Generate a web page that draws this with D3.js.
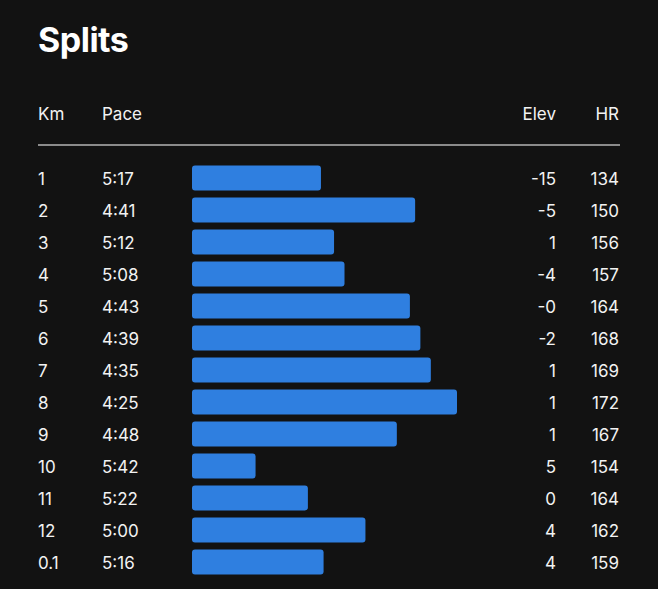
<!DOCTYPE html>
<html>
<head>
<meta charset="utf-8">
<script src="https://cdn.jsdelivr.net/npm/d3@7"></script>
<style>
  html, body { margin: 0; padding: 0; background: #121212; }
  svg { display: block; }
</style>
</head>
<body>
<svg id="chart" width="658" height="589"></svg>
<script>
const kmLabels = ["1","2","3","4","5","6","7","8","9","10","11","12","0.1"];
const paces = ["5:17","4:41","5:12","5:08","4:43","4:39","4:35","4:25","4:48","5:42","5:22","5:00","5:16"];
const elev = ["-15","-5","1","-4","-0","-2","1","1","1","5","0","4","4"];
const hr = [134,150,156,157,164,168,169,172,167,154,164,162,159];
const headers = ["Km","Pace","Elev","HR"];

const paceSec = paces.map(p => { const [m, s] = p.split(":").map(Number); return m * 60 + s; });
const rows = kmLabels.map((k, i) => ({ km: k, pace: paces[i], sec: paceSec[i], elev: elev[i], hr: hr[i] }));

const svg = d3.select("#chart");
const W = 658, H = 589;
svg.append("rect").attr("width", W).attr("height", H).attr("fill", "#121212");

const font = "Inter, 'Noto Sans', sans-serif";
const textColor = "#f2f2f2";

svg.append("text").attr("x", 38).attr("y", 52)
  .attr("font-family", font).attr("font-size", 34).attr("font-weight", 700)
  .attr("fill", "#ffffff").attr("letter-spacing", -0.5).text("Splits");

// column positions
const colX = { km: 38, pace: 102, elev: 556, hr: 619 };

const hdr = svg.append("g").attr("font-family", font).attr("font-size", 17).attr("fill", textColor);
hdr.append("text").attr("x", colX.km).attr("y", 120).text(headers[0]);
hdr.append("text").attr("x", colX.pace).attr("y", 120).text(headers[1]);
hdr.append("text").attr("x", colX.elev).attr("y", 120).attr("text-anchor", "end").text(headers[2]);
hdr.append("text").attr("x", colX.hr).attr("y", 120).attr("text-anchor", "end").text(headers[3]);

svg.append("line").attr("x1", 38).attr("x2", 620).attr("y1", 145).attr("y2", 145)
  .attr("stroke", "#b5b5b5").attr("stroke-width", 1.5);

const y = d3.scaleBand().domain(rows.map((d, i) => i)).range([162, 578]).paddingInner(0.22).paddingOuter(0.11);
const x = d3.scaleLinear().domain([366.3, 265]).range([192, 457]);

const g = svg.append("g");
g.selectAll("rect.bar").data(rows).join("rect")
  .attr("class", "bar")
  .attr("x", x(366.3))
  .attr("y", (d, i) => y(i))
  .attr("width", d => x(d.sec) - x(366.3))
  .attr("height", y.bandwidth())
  .attr("rx", 3).attr("ry", 3)
  .attr("fill", "#2f7fe0");

const rowText = svg.append("g").attr("font-family", font).attr("font-size", 17).attr("fill", textColor);
const cy = i => y(i) + y.bandwidth() / 2 + 6.5;
rowText.selectAll("text.km").data(rows).join("text").attr("class", "km")
  .attr("x", colX.km).attr("y", (d, i) => cy(i)).text(d => d.km);
rowText.selectAll("text.pace").data(rows).join("text").attr("class", "pace")
  .attr("x", colX.pace).attr("y", (d, i) => cy(i)).text(d => d.pace);
rowText.selectAll("text.elev").data(rows).join("text").attr("class", "elev")
  .attr("x", colX.elev).attr("y", (d, i) => cy(i)).attr("text-anchor", "end").text(d => d.elev);
rowText.selectAll("text.hr").data(rows).join("text").attr("class", "hr")
  .attr("x", colX.hr).attr("y", (d, i) => cy(i)).attr("text-anchor", "end").text(d => d.hr);
</script>
</body>
</html>
